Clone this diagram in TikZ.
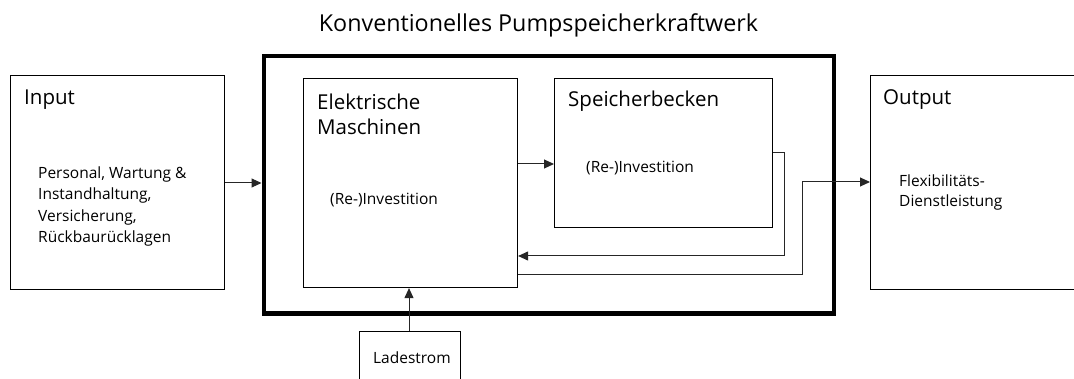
\documentclass[tikz,border=0pt]{standalone}
\usepackage{fontspec}
\setmainfont{Open Sans}
\usetikzlibrary{arrows.meta}
\begin{document}
\begin{tikzpicture}[x=1pt,y=-1pt,
  box/.style={draw=black,line width=1.1pt,rectangle,inner sep=0pt,anchor=north west},
  frame/.style={draw=black,line width=4.3pt,rectangle,inner sep=0pt,anchor=north west},
  head/.style={anchor=base west,inner sep=0pt,align=left,font=\fontsize{20.5}{25}\selectfont},
  body/.style={anchor=base west,inner sep=0pt,align=left,font=\fontsize{15.5}{21.5}\selectfont},
  conn/.style={draw=black!85,line width=1pt,-{Triangle[length=10pt,width=9pt]}}]
\useasboundingbox (0,0) rectangle (1074,379);
\clip (0,0) rectangle (1074,379);

% title
\node[anchor=base,inner sep=0pt,font=\fontsize{23.3}{26}\selectfont] (title) at (538.5,32) {Konventionelles Pumpspeicherkraftwerk};

% plant frame
\node[frame,minimum width=570.5pt,minimum height=257.5pt] (plant) at (261.5,54) {};

% input / output (multi-line texts are placed by the baseline of their last line)
\node[box,minimum width=214pt,minimum height=214pt] (in) at (10,75) {};
\node[head] (inT) at (24,105) {Input};
\node[body] (inB) at (38,243) {Personal, Wartung \&\\Instandhaltung,\\Versicherung,\\Rückbaurücklagen};

\node[box,minimum width=220pt,minimum height=214pt] (out) at (870,75) {};
\node[head] (outT) at (883,105) {Output};
\node[body,font=\fontsize{15.5}{20}\selectfont] (outB) at (899,207) {Flexibilitäts-\\Dienstleistung};

% components
\node[box,minimum width=214pt,minimum height=209pt] (em) at (303,78) {};
\node[head] (emT) at (317,135) {Elektrische\\Maschinen};
\node[body] (emB) at (330,205) {(Re-)Investition};

\node[box,minimum width=218pt,minimum height=149pt] (sb) at (554,78) {};
\node[head] (sbT) at (568,107) {Speicherbecken};
\node[body] (sbB) at (586,173) {(Re-)Investition};

\node[box,minimum width=101pt,minimum height=60pt] (ls) at (359,331) {};
\node[body] (lsT) at (373,363) {Ladestrom};

% flows
\draw[conn] (in.east |- 0,183) -- (plant.west |- 0,183);
\draw[conn] (em.east |- 0,164) -- (sb.west |- 0,164);
\draw[conn] (sb.east |- 0,153) -- (784,153) -- (784,256) -- (em.east |- 0,256);
\draw[conn] (em.east |- 0,275) -- (802,275) -- (802,182) -- (out.west |- 0,182);
\draw[conn] (ls.north -| 409,0) -- (em.south -| 409,0);
\end{tikzpicture}
\end{document}
